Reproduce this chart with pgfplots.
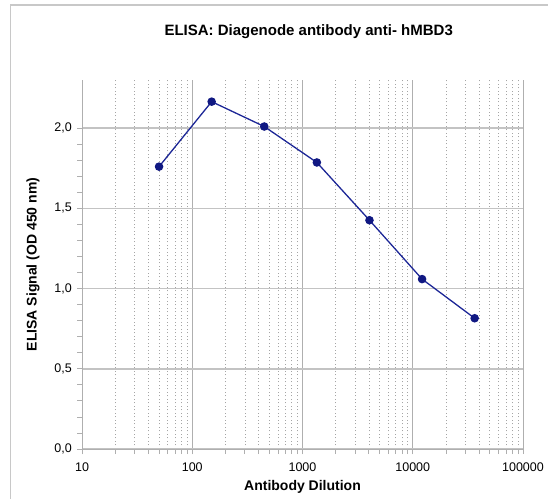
\documentclass[border=0pt]{standalone}
\usepackage{pgfplots}
\pgfplotsset{compat=1.18}
\usepackage{fontspec}
\setmainfont{Liberation Sans}
\definecolor{lineblue}{RGB}{28,38,150}
\definecolor{markblue}{RGB}{16,24,130}
\definecolor{gridgray}{RGB}{175,175,175}
\definecolor{hgridgray}{RGB}{195,195,195}
\definecolor{mingray}{RGB}{165,165,165}
\definecolor{framegray}{RGB}{200,200,200}
\begin{document}
\begin{tikzpicture}
\useasboundingbox (0,0) rectangle (548bp,499bp);
\draw[framegray, line width=1.5bp] (10.5bp,-10bp) -- (10.5bp,494bp) -- (560bp,494bp);
\begin{axis}[
  at={(82bp,50bp)}, anchor=south west,
  scale only axis,
  width=441bp, height=369bp,
  xmode=log,
  xmin=10, xmax=100000,
  ymin=0, ymax=2.3,
  axis x line*=bottom, axis y line*=left,
  axis line style={gridgray, line width=1bp},
  xtick={10,100,1000,10000,100000},
  xticklabels={10,100,1000,10000,100000},
  ytick={0,0.5,1,1.5,2},
  yticklabels={{0,0},{0,5},{1,0},{1,5},{2,0}},
  minor y tick num=4,
  tick align=outside,
  major tick length=5bp, minor tick length=5bp,
  tick style={gridgray, line width=0.8bp},
  xmajorgrids=true, ymajorgrids=true, xminorgrids=true,
  x grid style={gridgray, line width=1bp},
  y grid style={hgridgray, line width=1.5bp},
  minor x grid style={mingray, line width=0.7bp, dash pattern=on 1bp off 2.5bp},
  every tick label/.append style={font=\fontsize{12.5bp}{14bp}\selectfont, text=black},
  xticklabel style={inner sep=0pt, anchor=north, yshift=-9bp},
  yticklabel style={inner sep=0pt, anchor=east, xshift=-5bp},
  xlabel={Antibody Dilution},
  ylabel={ELISA Signal (OD 450 nm)},
  title={ELISA: Diagenode antibody anti- hMBD3},
  every axis x label/.style={at={(axis description cs:0.5,-0.103)}, anchor=center, font=\bfseries\fontsize{14bp}{16bp}\selectfont},
  every axis y label/.style={at={(axis description cs:-0.111,0.5)}, anchor=center, rotate=90, font=\bfseries\fontsize{14bp}{16bp}\selectfont},
  every axis title/.style={at={(axis description cs:0.514,1.13)}, anchor=center, font=\bfseries\fontsize{15bp}{17bp}\selectfont},
  clip=false,
]
\addplot[lineblue, line width=1.3bp, mark=*, mark size=3.6bp, mark options={fill=markblue, draw=markblue}]
coordinates {
(50,1.76)
(150,2.165)
(450,2.01)
(1350,1.786)
(4050,1.426)
(12150,1.059)
(36450,0.815)
};
\end{axis}
\end{tikzpicture}
\end{document}
